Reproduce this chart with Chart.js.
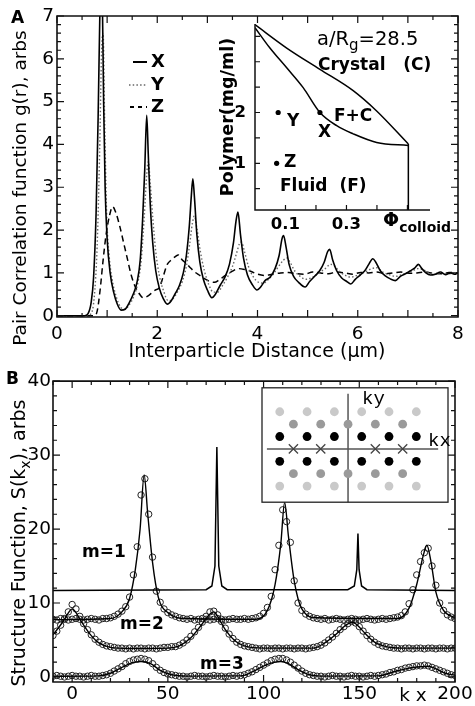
<!DOCTYPE html>
<html>
<head>
<meta charset="utf-8">
<script src="https://cdn.jsdelivr.net/npm/chart.js@4.4.1/dist/chart.umd.min.js"></script>
<style>
  html, body { margin: 0; padding: 0; background: #fff; }
  #wrap { position: relative; width: 475px; height: 706px; overflow: hidden; }
  canvas { position: absolute; }
</style>
</head>
<body>
<div id="wrap">
  <canvas id="cA" width="475" height="368" style="left:0;top:0"></canvas>
  <canvas id="cAi" width="260" height="240" style="left:215px;top:5px"></canvas>
  <canvas id="cB" width="475" height="338" style="left:0;top:368px"></canvas>
  <canvas id="cBi" width="212" height="130" style="left:252px;top:380px"></canvas>
</div>
<script>
// ===== panel A : pair correlation g(r) =====
const ticksAX = [0, 2, 4, 6, 8];
const ticksAY = [0, 1, 2, 3, 4, 5, 6, 7];
// sample X (solid)
const gX = [[0,0],[0.55,0],[0.62,0.05],[0.68,0.3],[0.73,0.9],[0.78,2.4],[0.82,4.6],[0.86,7.4],[0.88,8.2],[0.9,7.8],[0.93,5.0],[0.96,3.0],[1.0,1.8],[1.06,1.0],[1.13,0.55],[1.2,0.28],[1.28,0.13],[1.36,0.15],[1.44,0.3],[1.52,0.5],[1.6,0.8],[1.66,1.3],[1.71,2.3],[1.75,3.4],[1.79,4.68],[1.82,3.8],[1.86,2.6],[1.91,1.7],[1.97,1.05],[2.04,0.65],[2.12,0.4],[2.2,0.27],[2.28,0.35],[2.36,0.52],[2.44,0.7],[2.52,1.0],[2.58,1.4],[2.64,2.1],[2.68,2.8],[2.71,3.2],[2.74,2.8],[2.79,1.9],[2.85,1.25],[2.92,0.85],[3.0,0.6],[3.09,0.42],[3.16,0.5],[3.25,0.7],[3.35,0.9],[3.44,1.2],[3.52,1.7],[3.57,2.2],[3.61,2.42],[3.66,1.9],[3.72,1.35],[3.8,0.95],[3.9,0.72],[3.99,0.6],[4.07,0.68],[4.15,0.82],[4.25,0.9],[4.35,1.1],[4.43,1.4],[4.49,1.8],[4.52,1.87],[4.57,1.6],[4.63,1.2],[4.72,0.92],[4.82,0.78],[4.95,0.67],[5.04,0.8],[5.14,0.92],[5.24,1.05],[5.33,1.25],[5.4,1.5],[5.44,1.55],[5.5,1.3],[5.58,1.05],[5.68,0.88],[5.78,0.8],[5.86,0.74],[5.95,0.85],[6.05,0.95],[6.14,1.05],[6.22,1.2],[6.3,1.33],[6.36,1.25],[6.45,1.05],[6.55,0.93],[6.65,0.86],[6.75,0.82],[6.85,0.92],[6.95,0.98],[7.05,1.05],[7.14,1.12],[7.21,1.2],[7.28,1.1],[7.36,1.0],[7.45,0.95],[7.55,0.97],[7.65,1.02],[7.75,0.96],[7.85,1.0],[7.93,0.97],[8,1.0]];
// sample Y (dotted)
const gY = [[0,0],[0.6,0],[0.68,0.05],[0.74,0.4],[0.8,1.6],[0.85,3.8],[0.89,6.2],[0.92,6.6],[0.95,4.6],[0.99,2.4],[1.04,1.4],[1.1,0.85],[1.18,0.45],[1.27,0.2],[1.35,0.15],[1.44,0.25],[1.53,0.45],[1.61,0.75],[1.68,1.3],[1.74,2.3],[1.79,3.3],[1.82,3.6],[1.86,3.1],[1.91,2.3],[1.97,1.5],[2.04,0.95],[2.12,0.6],[2.22,0.35],[2.3,0.38],[2.4,0.55],[2.5,0.8],[2.58,1.15],[2.65,1.7],[2.7,2.15],[2.74,2.33],[2.79,2.05],[2.86,1.5],[2.94,1.05],[3.03,0.72],[3.12,0.55],[3.2,0.55],[3.3,0.7],[3.4,0.9],[3.5,1.15],[3.58,1.45],[3.64,1.68],[3.68,1.72],[3.74,1.5],[3.82,1.15],[3.92,0.9],[4.02,0.78],[4.12,0.76],[4.22,0.85],[4.32,0.98],[4.42,1.15],[4.52,1.3],[4.58,1.35],[4.65,1.25],[4.74,1.05],[4.85,0.92],[4.97,0.85],[5.1,0.9],[5.22,1.0],[5.35,1.1],[5.46,1.2],[5.52,1.18],[5.62,1.05],[5.74,0.95],[5.86,0.9],[6.0,0.95],[6.14,1.02],[6.28,1.1],[6.38,1.12],[6.5,1.02],[6.62,0.96],[6.76,0.92],[6.9,0.97],[7.05,1.02],[7.2,1.1],[7.3,1.08],[7.42,1.0],[7.56,0.97],[7.7,1.0],[7.85,0.98],[8,1.0]];
// sample Z (dashed)
const gZ = [[0,0],[0.74,0],[0.8,0.1],[0.86,0.6],[0.92,1.3],[0.98,1.9],[1.05,2.35],[1.11,2.55],[1.17,2.42],[1.25,2.1],[1.32,1.75],[1.4,1.35],[1.48,0.95],[1.56,0.68],[1.65,0.5],[1.72,0.42],[1.8,0.45],[1.88,0.52],[1.96,0.6],[2.04,0.65],[2.12,0.92],[2.2,1.2],[2.28,1.3],[2.36,1.38],[2.42,1.42],[2.5,1.3],[2.58,1.22],[2.66,1.12],[2.75,1.02],[2.85,0.94],[2.95,0.86],[3.05,0.8],[3.14,0.78],[3.24,0.84],[3.36,0.94],[3.5,1.04],[3.62,1.1],[3.74,1.08],[3.86,1.04],[4.0,0.97],[4.14,0.94],[4.3,0.97],[4.46,1.0],[4.62,1.01],[4.78,0.98],[4.94,0.97],[5.1,1.02],[5.26,1.0],[5.42,0.98],[5.58,1.02],[5.74,1.0],[5.9,0.97],[6.06,1.01],[6.22,1.0],[6.38,1.02],[6.54,0.98],[6.7,1.0],[6.86,1.02],[7.02,0.99],[7.18,1.0],[7.34,1.02],[7.5,0.99],[7.66,0.98],[7.82,1.01],[8,1.0]];

// ===== inset A : phase diagram =====
const phiTicks = [0.1, 0.3];
const polyTicks = [1, 2];
const crystalLine = [[0,3.73],[0.104,3.27],[0.213,2.85],[0.322,2.43],[0.399,2.03],[0.503,1.38]];
const fluidLine = [[0,3.67],[0.049,3.27],[0.104,2.88],[0.158,2.49],[0.213,2.0],[0.268,1.74],[0.322,1.58],[0.399,1.41],[0.503,1.35]];
const meltLine = [[0.503,1.38],[0.503,0.08]];
const samplePts = [[0.213,2.0],[0.076,2.0],[0.071,1.0]]; // X, Y, Z

// ===== panel B : structure function S(kx) =====
const ticksBX = [0, 50, 100, 150, 200];
const ticksBY = [0, 10, 20, 30, 40];
const kxSamples = [-10,-8,-6,-4,-2,0,2,4,6,8,10,12,14,16,18,20,22,24,26,28,30,32,34,36,38,40,42,44,46,48,50,52,54,56,58,60,62,64,66,68,70,72,74,76,78,80,82,84,86,88,90,92,94,96,98,100,102,104,106,108,110,112,114,116,118,120,122,124,126,128,130,132,134,136,138,140,142,144,146,148,150,152,154,156,158,160,162,164,166,168,170,172,174,176,178,180,182,184,186,188,190,192,194,196,198,200];
const m1Circles = [7.8,7.7,7.9,7.8,7.7,7.8,7.9,7.8,7.7,7.8,
  7.9,7.8,7.7,7.9,7.9,8.0,8.2,8.5,8.9,9.5,
  10.8,13.8,17.6,24.6,26.8,22.0,16.2,11.6,10.1,9.2,
  8.7,8.4,8.2,8.0,7.9,7.8,7.9,7.7,7.8,7.9,
  7.8,7.7,7.8,7.9,7.8,7.7,7.8,7.9,7.8,7.8,
  7.9,7.8,7.9,8.0,8.2,8.6,9.4,10.9,14.5,17.8,
  22.6,21.0,18.2,13.0,10.0,9.0,8.5,8.2,8.0,7.9,
  7.8,7.9,7.7,7.8,7.9,7.8,7.7,7.8,7.9,7.8,
  7.7,7.8,7.9,7.8,7.7,7.8,7.9,7.8,7.9,8.0,
  8.1,8.3,8.8,9.9,11.8,13.8,15.6,16.8,17.4,15.0,
  12.4,10.0,9.0,8.4,8.1,7.9];
const m2Circles = [5.6,6.2,7.0,7.9,8.8,9.8,9.2,8.2,7.2,6.4,
  5.7,5.1,4.7,4.4,4.2,4.1,4.0,3.9,3.9,3.8,
  3.9,3.8,3.9,3.9,3.8,3.9,3.9,3.8,3.9,4.0,
  4.0,4.1,4.1,4.3,4.6,5.0,5.5,6.1,6.7,7.4,
  8.2,8.8,8.9,8.4,7.5,6.6,5.8,5.2,4.7,4.4,
  4.2,4.1,4.0,3.9,3.8,3.9,3.9,3.8,3.9,3.9,
  3.8,3.9,3.9,3.8,3.9,3.9,3.8,3.9,4.0,4.1,
  4.3,4.6,5.0,5.4,5.9,6.4,6.8,7.2,7.5,7.3,
  6.8,6.2,5.6,5.1,4.7,4.4,4.2,4.1,4.0,3.9,
  3.9,3.8,3.9,3.9,3.8,3.9,3.9,3.8,3.9,3.9,
  3.8,3.9,3.9,3.8,3.9,3.9];
const m3Circles = [0.1,0.2,0.1,0.0,0.1,0.2,0.1,0.1,0.0,0.1,
  0.2,0.1,0.1,0.2,0.3,0.5,0.8,1.1,1.4,1.8,
  2.1,2.3,2.4,2.5,2.4,2.2,1.8,1.3,0.9,0.6,
  0.4,0.3,0.2,0.1,0.1,0.0,0.1,0.2,0.1,0.1,
  0.0,0.1,0.2,0.1,0.1,0.0,0.1,0.2,0.1,0.2,
  0.3,0.5,0.7,1.0,1.3,1.6,1.9,2.2,2.4,2.5,
  2.5,2.3,2.0,1.6,1.2,0.8,0.5,0.3,0.2,0.1,
  0.1,0.0,0.1,0.2,0.1,0.1,0.0,0.1,0.2,0.1,
  0.1,0.0,0.1,0.2,0.1,0.2,0.3,0.4,0.6,0.7,
  0.9,1.0,1.2,1.3,1.4,1.5,1.5,1.6,1.5,1.3,
  1.1,0.9,0.7,0.5,0.3,0.2];
const m1Fit = [[-10,7.75],[20,7.9],[26,8.8],[30,10.6],[33,14.5],[35.5,20],[37.6,27.3],[39.5,22],[42,15.5],[45,10.8],[50,8.7],[60,7.9],[96,7.8],[102,9.0],[106,12.5],[109,18],[111,23.6],[113,19],[116,13],[120,9.2],[128,8.0],[170,7.9],[176,9.3],[180,12.5],[183.5,16.5],[185.3,17.8],[187.5,15.5],[190,11.5],[194,9.0],[200,8.0]];
const m2Fit = [[-10,5.7],[-5,7.4],[-1,9.0],[0,9.2],[2,8.7],[5,7.4],[9,5.9],[14,4.6],[20,4.0],[30,3.85],[50,3.9],[56,4.2],[62,5.3],[68,7.2],[72,8.5],[74,8.8],[76,8.2],[80,6.4],[85,4.9],[90,4.2],[100,3.9],[126,3.9],[132,4.6],[138,5.8],[143,7.0],[146.5,7.4],[149,7.0],[153,5.9],[158,4.7],[164,4.1],[172,3.9],[200,3.9]];
const m3Fit = [[-10,0.1],[14,0.15],[20,0.5],[26,1.3],[31,1.9],[36,2.1],[41,1.8],[46,0.9],[52,0.3],[60,0.12],[88,0.15],[95,0.8],[101,1.6],[106,2.0],[109,2.1],[113,1.8],[118,1.0],[124,0.3],[130,0.12],[160,0.15],[168,0.7],[176,1.2],[183,1.4],[186,1.45],[190,1.1],[195,0.5],[200,0.25]];
const braggLine = [[-10,11.7],[70,11.8],[73,12.3],[74.6,15],[75.6,31.1],[76.6,15],[78.2,12.3],[81,11.8],[144,11.8],[147.4,12.3],[148.7,14.5],[149.3,19.4],[149.9,14.5],[151.2,12.3],[154,11.8],[200,11.7]];

// ===== inset B : reciprocal lattice =====
const latCols = [-2.5, -1.5, -0.5, 0.5, 1.5, 2.5];
const latMidCols = [-2, -1, 0, 1, 2];
const rowsBlack = [0.46, -0.46];
const rowsMid = [0.92, -0.92];
const rowsLight = [1.38, -1.38];
const crossCols = [-2, -1, 1, 2];
const kxAxisLine = [[-2.97, 0], [3.3, 0]];
const kyAxisLine = [[0, 2.05], [0, -2.0]];

// ---------- helpers ----------
const SANS = "'DejaVu Sans', 'Liberation Sans', sans-serif";
const pts = arr => arr.map(p => ({ x: p[0], y: p[1] }));

function lineSet(arr, extra) {
  return Object.assign({
    data: pts(arr), showLine: true, pointRadius: 0, borderColor: '#000',
    borderWidth: 1.5, fill: false, cubicInterpolationMode: 'monotone'
  }, extra || {});
}

function circleSet(xs, ys) {
  return {
    data: xs.map((x, i) => ({ x: x, y: ys[i] })), showLine: false,
    pointRadius: 3.2, pointBorderWidth: 1, pointBorderColor: '#222',
    pointBackgroundColor: 'rgba(0,0,0,0)'
  };
}

function marks(lo, hi, step, major, L, l) {
  const out = [];
  for (let v = lo; v <= hi + 1e-9; v += step) {
    const r = Math.round(v * 1000) / 1000;
    const isMaj = Math.abs(r / major - Math.round(r / major)) < 1e-6;
    out.push([r, isMaj ? L : l]);
  }
  return out;
}

function axisOpts(min, max, tickVals, fit, font, pad) {
  return {
    type: 'linear', min: min, max: max,
    afterBuildTicks: s => { s.ticks = tickVals.map(v => ({ value: v })); },
    afterFit: fit,
    grid: { display: false, drawTicks: false },
    border: { display: false },
    ticks: { color: '#000', font: font, padding: pad, maxRotation: 0, autoSkip: false }
  };
}

// frame + inward ticks
function framePlugin(o) {
  return {
    id: 'frame' + o.name,
    afterDatasetsDraw(chart) {
      const { ctx, chartArea: a, scales } = chart;
      ctx.save();
      ctx.strokeStyle = '#111';
      ctx.lineWidth = o.lw;
      ctx.beginPath();
      if (o.box) ctx.rect(a.left, a.top, a.right - a.left, a.bottom - a.top);
      else { ctx.moveTo(a.left, a.top); ctx.lineTo(a.left, a.bottom); ctx.lineTo(a.right, a.bottom); }
      ctx.stroke();
      ctx.lineWidth = o.tw;
      ctx.beginPath();
      o.xt.forEach(([v, len]) => {
        const p = scales.x.getPixelForValue(v);
        ctx.moveTo(p, a.bottom); ctx.lineTo(p, a.bottom - len);
        if (o.box) { ctx.moveTo(p, a.top); ctx.lineTo(p, a.top + len); }
      });
      o.yt.forEach(([v, len]) => {
        const p = scales.y.getPixelForValue(v);
        ctx.moveTo(a.left, p); ctx.lineTo(a.left + len, p);
        if (o.box) { ctx.moveTo(a.right, p); ctx.lineTo(a.right - len, p); }
      });
      ctx.stroke();
      ctx.restore();
    }
  };
}

// free text (with subscripts) and legend samples, page coordinates
function textPlugin(name, ox, oy, items) {
  return {
    id: 'text' + name,
    afterDraw(chart) {
      const ctx = chart.ctx;
      items.forEach(it => {
        ctx.save();
        if (it.line) {
          ctx.strokeStyle = it.color || '#000';
          ctx.lineWidth = it.lw || 1.5;
          ctx.setLineDash(it.dash || []);
          ctx.beginPath();
          ctx.moveTo(it.line[0] - ox, it.line[1] - oy);
          ctx.lineTo(it.line[2] - ox, it.line[3] - oy);
          ctx.stroke();
          ctx.restore();
          return;
        }
        ctx.translate(it.x - ox, it.y - oy);
        if (it.rot) ctx.rotate(it.rot);
        ctx.fillStyle = '#000';
        ctx.textBaseline = 'middle';
        const parts = typeof it.t === 'string' ? [[it.t, 0]] : it.t;
        let total = 0;
        parts.forEach(p => { ctx.font = p[1] ? it.sub : it.font; total += ctx.measureText(p[0]).width; });
        let x = it.align === 'center' ? -total / 2 : 0;
        parts.forEach(p => {
          ctx.font = p[1] ? it.sub : it.font;
          ctx.fillText(p[0], x, p[1] ? it.shift : 0);
          x += ctx.measureText(p[0]).width;
        });
        ctx.restore();
      });
    }
  };
}

const base = {
  responsive: false, animation: false, events: [],
  plugins: { legend: { display: false }, tooltip: { enabled: false } }
};
const tickFont = { family: SANS, size: 18.5 };
const boldInset = { family: SANS, size: 16.5, weight: 'bold' };

// ---------- chart A ----------
new Chart(document.getElementById('cA'), {
  type: 'scatter',
  data: {
    datasets: [
      lineSet(gX, { borderWidth: 1.6 }),
      lineSet(gY, { borderColor: '#666', borderWidth: 1.4, borderDash: [1.5, 2.2] }),
      lineSet(gZ, { borderWidth: 1.5, borderDash: [6, 4] })
    ]
  },
  options: Object.assign({}, base, {
    layout: { padding: { left: 0, top: 16, right: 17, bottom: 0 } },
    scales: {
      x: axisOpts(0, 8, ticksAX, s => { s.height = 51; }, tickFont, 6),
      y: axisOpts(-0.03, 7, ticksAY, s => { s.width = 57; }, tickFont, 3)
    }
  }),
  plugins: [
    framePlugin({ name: 'A', box: true, lw: 1.6, tw: 1.2,
      xt: marks(0, 8, 0.5, 1, 7, 4), yt: marks(0, 7, 0.2, 1, 7, 4) }),
    textPlugin('A', 0, 0, [
      { t: 'A', x: 11, y: 19, font: 'bold 17px ' + SANS },
      { t: 'Pair Correlation function g(r), arbs', x: 21, y: 188, rot: -Math.PI / 2, align: 'center', font: '18.5px ' + SANS },
      { t: 'Interparticle Distance (\u00b5m)', x: 257, y: 352, align: 'center', font: '19px ' + SANS },
      { line: [133, 62, 147, 62], lw: 2 },
      { line: [129, 85, 147, 85], lw: 1.6, dash: [1.5, 2.2], color: '#666' },
      { line: [130, 107, 147, 107], lw: 1.8, dash: [4, 4] },
      { t: 'X', x: 151, y: 62, font: 'bold 18px ' + SANS },
      { t: 'Y', x: 151, y: 85, font: 'bold 18px ' + SANS },
      { t: 'Z', x: 151, y: 107, font: 'bold 18px ' + SANS }
    ])
  ]
});

// ---------- inset A ----------
new Chart(document.getElementById('cAi'), {
  type: 'scatter',
  data: {
    datasets: [
      { data: pts(samplePts), showLine: false, pointRadius: 2.6, pointBackgroundColor: '#000', pointBorderWidth: 0 },
      lineSet(crystalLine, { borderWidth: 1.5 }),
      lineSet(fluidLine, { borderWidth: 1.5 }),
      lineSet(meltLine, { borderWidth: 1.5, cubicInterpolationMode: 'default' })
    ]
  },
  options: Object.assign({}, base, {
    layout: { padding: { left: 0, top: 18, right: 45, bottom: 0 } },
    scales: {
      x: axisOpts(0, 0.574, phiTicks, s => { s.height = 35; }, boldInset, 5),
      y: axisOpts(0.08, 3.745, polyTicks, s => { s.width = 40; }, boldInset, 9)
    }
  }),
  plugins: [
    framePlugin({ name: 'Ai', box: false, lw: 1.5, tw: 1.2,
      xt: marks(0.1, 0.5, 0.1, 0.1, 5, 5), yt: marks(0.5, 3.5, 0.5, 0.5, 5, 5) }),
    textPlugin('Ai', 215, 5, [
      { t: [['a/R', 0], ['g', 1], ['=28.5', 0]], x: 317, y: 40, font: '19.5px ' + SANS, sub: '15px ' + SANS, shift: 6 },
      { t: 'Crystal   (C)', x: 318, y: 66, font: 'bold 17px ' + SANS },
      { t: 'F+C', x: 334, y: 117, font: 'bold 17px ' + SANS },
      { t: 'Y', x: 287, y: 122, font: 'bold 17px ' + SANS },
      { t: 'X', x: 318, y: 133, font: 'bold 17px ' + SANS },
      { t: 'Z', x: 284, y: 163, font: 'bold 17px ' + SANS },
      { t: 'Fluid  (F)', x: 280, y: 187, font: 'bold 17px ' + SANS },
      { t: 'Polymer(mg/ml)', x: 228, y: 117, rot: -Math.PI / 2, align: 'center', font: 'bold 17.5px ' + SANS },
      { t: [['\u03a6', 0], ['colloid', 1]], x: 383, y: 221, font: 'bold 19px ' + SANS, sub: 'bold 14px ' + SANS, shift: 7 }
    ])
  ]
});

// ---------- chart B ----------
new Chart(document.getElementById('cB'), {
  type: 'scatter',
  data: {
    datasets: [
      lineSet(m1Fit, { borderWidth: 1.4 }),
      lineSet(m2Fit, { borderWidth: 1.4 }),
      lineSet(m3Fit, { borderWidth: 1.4 }),
      lineSet(braggLine, { borderWidth: 1.5, cubicInterpolationMode: 'default' }),
      circleSet(kxSamples, m1Circles),
      circleSet(kxSamples, m2Circles),
      circleSet(kxSamples, m3Circles)
    ]
  },
  options: Object.assign({}, base, {
    layout: { padding: { left: 0, top: 13, right: 20, bottom: 0 } },
    scales: {
      x: axisOpts(-10, 200, ticksBX, s => { s.height = 24; }, tickFont, 1),
      y: axisOpts(-0.68, 40, ticksBY, s => { s.width = 53; }, tickFont, 2)
    }
  }),
  plugins: [
    framePlugin({ name: 'B', box: true, lw: 1.6, tw: 1.2,
      xt: marks(-10, 200, 10, 50, 7, 4), yt: marks(0, 40, 2, 10, 7, 4) }),
    textPlugin('B', 0, 368, [
      { t: 'B', x: 6, y: 380, font: 'bold 17px ' + SANS },
      { t: [['Structure Function, S(k', 0], ['x', 1], ['), arbs', 0]], x: 20, y: 543, rot: -Math.PI / 2, align: 'center', font: '19px ' + SANS, sub: '14px ' + SANS, shift: 6 },
      { t: 'm=1', x: 82, y: 553, font: 'bold 17px ' + SANS },
      { t: 'm=2', x: 120, y: 625, font: 'bold 17px ' + SANS },
      { t: 'm=3', x: 200, y: 665, font: 'bold 17px ' + SANS },
      { t: 'k x', x: 413, y: 696, align: 'center', font: '18.5px ' + SANS }
    ])
  ]
});

// ---------- inset B ----------
const dotSet = (cols, rows, color) => ({
  data: rows.flatMap(r => cols.map(c => ({ x: c, y: r }))), showLine: false,
  pointRadius: 4.4, pointBackgroundColor: color, pointBorderWidth: 0
});
const insetBox = {
  id: 'insetBox',
  beforeDatasetsDraw(chart) {
    const { ctx, chartArea: a } = chart;
    ctx.save();
    ctx.fillStyle = '#fff';
    ctx.fillRect(a.left, a.top, a.right - a.left, a.bottom - a.top);
    ctx.restore();
  },
  afterDatasetsDraw(chart) {
    const { ctx, chartArea: a } = chart;
    ctx.save();
    ctx.strokeStyle = '#222';
    ctx.lineWidth = 1.3;
    ctx.strokeRect(a.left, a.top, a.right - a.left, a.bottom - a.top);
    ctx.restore();
  }
};
new Chart(document.getElementById('cBi'), {
  type: 'scatter',
  data: {
    datasets: [
      dotSet(latCols, rowsBlack, '#000'),
      dotSet(latMidCols, rowsMid, '#9a9a9a'),
      dotSet(latCols, rowsLight, '#c9c9c9'),
      { data: crossCols.map(c => ({ x: c, y: 0 })), showLine: false, pointStyle: 'crossRot',
        pointRadius: 6.5, pointBorderColor: '#444', pointBorderWidth: 1.3 },
      lineSet(kxAxisLine, { borderColor: '#555', borderWidth: 1.5, cubicInterpolationMode: 'default' }),
      lineSet(kyAxisLine, { borderColor: '#555', borderWidth: 1.5, cubicInterpolationMode: 'default' })
    ]
  },
  options: Object.assign({}, base, {
    layout: { padding: { left: 10, top: 7, right: 16, bottom: 7 } },
    scales: {
      x: { type: 'linear', min: -3.15, max: 3.66, display: false },
      y: { type: 'linear', min: -1.98, max: 2.27, display: false }
    }
  }),
  plugins: [
    insetBox,
    textPlugin('Bi', 252, 380, [
      { t: 'ky', x: 362, y: 399, font: '19px \'Liberation Mono\', monospace' },
      { t: 'kx', x: 428, y: 441, font: '19px \'Liberation Mono\', monospace' }
    ])
  ]
});
</script>
</body>
</html>
